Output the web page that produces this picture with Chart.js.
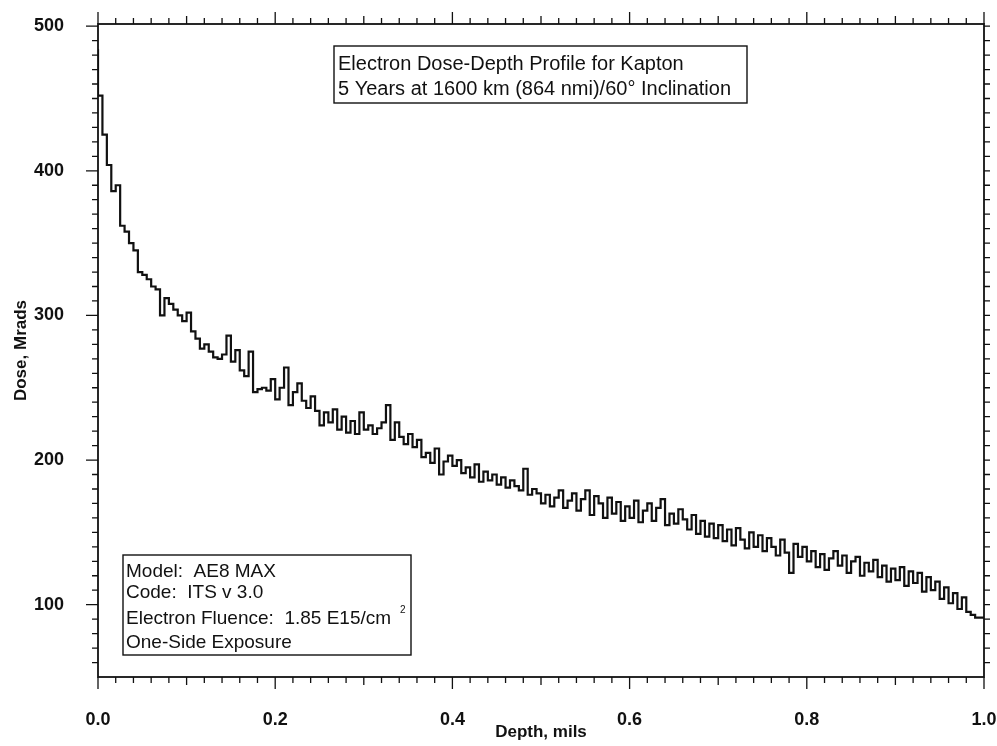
<!DOCTYPE html>
<html>
<head>
<meta charset="utf-8">
<script src="https://cdn.jsdelivr.net/npm/chart.js@4.4.1/dist/chart.umd.min.js"></script>
<style>
  body { margin: 0; background: #fff; }
</style>
</head>
<body>
<canvas id="doseChart" width="997" height="746"></canvas>

<script>
// dose per depth bin, Mrads (bins are 0.005 mils wide, starting at 0)
var binWidth = 0.005;
var dose = [
  484, 452, 425, 404, 386, 390, 362, 358, 350, 345, 330, 328, 325, 320, 318, 300, 312, 308, 304, 300,
  296, 302, 289, 284, 277, 280, 275, 271, 270, 273, 286, 268, 276, 262, 258, 275, 247, 249, 250, 248,
  256, 242, 250, 264, 238, 247, 253, 241, 236, 244, 234, 224, 233, 226, 235, 221, 230, 219, 227, 218,
  233, 221, 224, 218, 222, 226, 238, 214, 226, 216, 211, 218, 209, 214, 202, 205, 198, 208, 190, 199,
  203, 196, 200, 191, 195, 188, 197, 185, 192, 186, 190, 183, 188, 181, 186, 182, 179, 194, 176, 180,
  177, 170, 176, 168, 174, 179, 167, 172, 177, 165, 173, 179, 162, 175, 170, 160, 174, 163, 171, 158,
  168, 160, 172, 157, 165, 170, 158, 167, 173, 155, 163, 156, 166, 159, 152, 162, 149, 158, 147, 156,
  146, 155, 144, 152, 141, 153, 145, 139, 150, 140, 148, 137, 146, 140, 134, 145, 136, 122, 142, 133,
  140, 130, 137, 126, 135, 124, 132, 137, 127, 134, 122, 130, 133, 120, 129, 123, 131, 119, 127, 116,
  125, 117, 126, 113, 123, 115, 122, 109, 119, 110, 116, 104, 112, 101, 108, 97, 105, 95, 93, 91
];

var xTicks = [0, 0.2, 0.4, 0.6, 0.8, 1.0];
var yTicks = [100, 200, 300, 400, 500];

var titleLines = [
  'Electron Dose-Depth Profile for Kapton',
  '5 Years at 1600 km (864 nmi)/60\u00B0 Inclination'
];
var infoLines = [
  'Model:  AE8 MAX',
  'Code:  ITS v 3.0',
  'Electron Fluence:  1.85 E15/cm',
  'One-Side Exposure'
];

var points = dose.map(function(v, i) { return { x: i * binWidth, y: v }; });
points.push({ x: dose.length * binWidth, y: dose[dose.length - 1] });

var ink = '#111';
var sans = '"Liberation Sans", Arial, sans-serif';

// frame with minor/major ticks on all four sides, plus the two text boxes
var frameAndNotes = {
  id: 'frameAndNotes',
  afterDraw: function(chart) {
    var ctx = chart.ctx, a = chart.chartArea;
    var xs = chart.scales.x, ys = chart.scales.y;
    ctx.save();
    ctx.strokeStyle = ink;
    ctx.lineWidth = 1.8;
    ctx.strokeRect(a.left, a.top, a.right - a.left, a.bottom - a.top);

    ctx.lineWidth = 1.3;
    ctx.beginPath();
    for (var i = 0; i <= 50; i++) {
      var px = xs.getPixelForValue(i * 0.02);
      var len = i % 10 === 0 ? 12 : (i % 5 === 0 ? 8 : 6);
      ctx.moveTo(px, a.bottom); ctx.lineTo(px, a.bottom + len);
      ctx.moveTo(px, a.top); ctx.lineTo(px, a.top - len);
    }
    for (var v = 60; v <= 500; v += 10) {
      var py = ys.getPixelForValue(v);
      var l = v % 100 === 0 ? 12 : 6;
      ctx.moveTo(a.left, py); ctx.lineTo(a.left - l, py);
      ctx.moveTo(a.right, py); ctx.lineTo(a.right + 6, py);
    }
    ctx.stroke();

    // title box
    ctx.fillStyle = ink;
    ctx.textBaseline = 'middle';
    ctx.textAlign = 'left';
    ctx.lineWidth = 1.4;
    ctx.font = '20px ' + sans;
    ctx.strokeRect(334, 46, 413, 57);
    ctx.fillText(titleLines[0], 338, 64);
    ctx.fillText(titleLines[1], 338, 89);

    // model box
    ctx.font = '19px ' + sans;
    ctx.strokeRect(123, 555, 288, 100);
    ctx.fillText(infoLines[0], 126, 572);
    ctx.fillText(infoLines[1], 126, 593);
    ctx.fillText(infoLines[2], 126, 619);
    ctx.fillText(infoLines[3], 126, 643);
    ctx.font = '10px ' + sans;
    ctx.fillText('2', 400, 610);
    ctx.restore();
  }
};

new Chart(document.getElementById('doseChart').getContext('2d'), {
  type: 'line',
  data: {
    datasets: [{
      label: 'Dose',
      data: points,
      stepped: 'after',
      borderColor: ink,
      borderWidth: 2.2,
      pointRadius: 0,
      fill: false
    }]
  },
  plugins: [frameAndNotes],
  options: {
    responsive: false,
    animation: false,
    devicePixelRatio: 1,
    layout: { padding: { top: 24, right: 13, left: 0, bottom: 0 } },
    plugins: {
      legend: { display: false },
      tooltip: { enabled: false }
    },
    scales: {
      x: {
        type: 'linear',
        min: 0,
        max: 1.0,
        afterBuildTicks: function(scale) {
          scale.ticks = xTicks.map(function(v) { return { value: v }; });
        },
        afterFit: function(scale) {
          scale.height = 69;
          scale.paddingLeft = 0;
          scale.paddingRight = 0;
        },
        grid: { display: false },
        border: { display: false },
        ticks: {
          color: ink,
          padding: 24,
          maxRotation: 0,
          font: { family: sans, size: 18, weight: 'bold' },
          callback: function(v) { return Number(v).toFixed(1); }
        },
        title: {
          display: true,
          text: 'Depth, mils',
          color: ink,
          padding: { top: 0, bottom: 3 },
          font: { family: sans, size: 17, weight: 'bold' }
        }
      },
      y: {
        type: 'linear',
        min: 50,
        max: 501.5,
        afterBuildTicks: function(scale) {
          scale.ticks = yTicks.map(function(v) { return { value: v }; });
        },
        afterFit: function(scale) {
          scale.width = 98;
          scale.paddingTop = 0;
          scale.paddingBottom = 0;
        },
        grid: { display: false },
        border: { display: false },
        ticks: {
          color: ink,
          padding: 26,
          font: { family: sans, size: 18, weight: 'bold' }
        },
        title: {
          display: true,
          text: 'Dose, Mrads',
          color: ink,
          padding: { top: 11, bottom: 0 },
          font: { family: sans, size: 17, weight: 'bold' }
        }
      }
    }
  }
});
</script>
</body>
</html>
